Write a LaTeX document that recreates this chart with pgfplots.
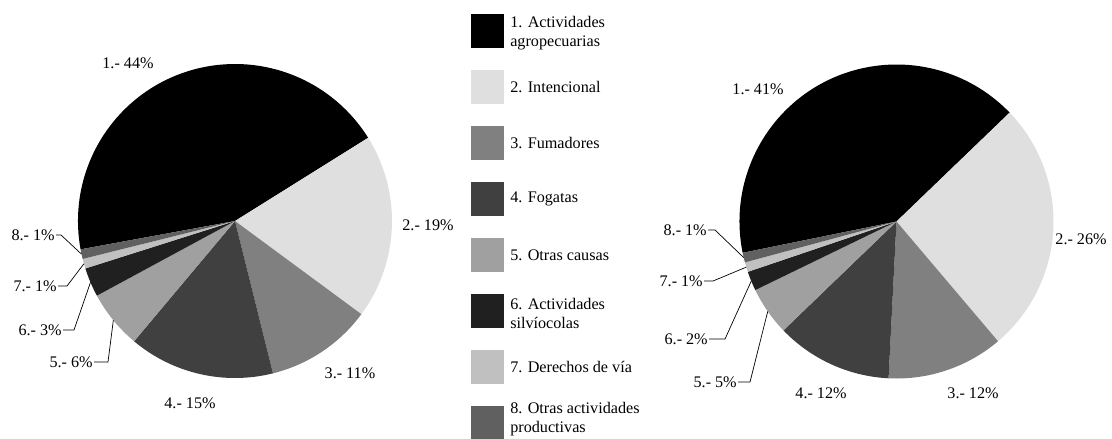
\documentclass[border=0pt]{standalone}
\usepackage{pgfplots}
\usepackage{pgfplotstable}
\pgfplotsset{compat=1.18}
\usepackage{fontspec}
\setmainfont{Liberation Serif}

\definecolor{c1}{HTML}{000000}
\definecolor{c2}{HTML}{DFDFDF}
\definecolor{c3}{HTML}{808080}
\definecolor{c4}{HTML}{404040}
\definecolor{c5}{HTML}{A0A0A0}
\definecolor{c6}{HTML}{202020}
\definecolor{c7}{HTML}{C0C0C0}
\definecolor{c8}{HTML}{606060}

% percentages per cause
\pgfplotstableread{
pct col
44 c1
19 c2
11 c3
15 c4
6  c5
3  c6
1  c7
1  c8
}\leftdata
\pgfplotstableread{
pct col
41 c1
26 c2
12 c3
12 c4
5  c5
2  c6
1  c7
1  c8
}\rightdata

\def\pierad{39.25mm}

% #1 table, #2 cx, #3 cy, #4 start angle, #5 name
\newcommand\drawpie[5]{%
  \pgfplotstablegetrowsof{#1}%
  \pgfmathtruncatemacro\nrows{\pgfplotsretval-1}%
  \pgfmathsetmacro\curang{#4}%
  \pgfplotsforeachungrouped \i in {0,...,\nrows}{%
    \pgfplotstablegetelem{\i}{pct}\of{#1}\let\pct\pgfplotsretval
    \pgfplotstablegetelem{\i}{col}\of{#1}\let\col\pgfplotsretval
    \pgfmathsetmacro\endang{\curang-3.6*\pct}%
    \pgfmathsetmacro\midang{\curang-1.8*\pct}%
    \expandafter\xdef\csname mid#5\i\endcsname{\midang}%
    \edef\temp{\noexpand\fill[\col] (axis cs:#2,#3) -- ++(\curang:\pierad)
      arc[start angle=\curang, end angle=\endang, radius=\pierad] -- cycle;}%
    \temp
    \global\let\curang\endang
  }}

% leader: #1 name, #2 slice, #3 cx, #4 cy, #5 x0, #6 x1, #7 y
\newcommand\leader[7]{%
  \edef\temp{\noexpand\draw[black, line width=0.5pt] (axis cs:#5,#7) -- (axis cs:#6,#7)
    -- ([shift={(\csname mid#1#2\endcsname:\pierad)}]axis cs:#3,#4);}%
  \temp}

\begin{document}
\fontsize{11.5}{13.5}\selectfont
\begin{tikzpicture}
\begin{axis}[
  name=ax,
  x=0.25mm, y=0.25mm,
  xmin=0, xmax=1112, ymin=0, ymax=438,
  hide axis, clip=false,
  scale only axis,
  every node/.append style={font=\fontsize{11.5}{13.5}\selectfont},
]
\drawpie{\leftdata}{235}{217}{190.4}{L}
\drawpie{\rightdata}{896.5}{216.5}{191.5}{R}

% labels left pie
\node at (axis cs:128,375) {1.- 44\%};
\node at (axis cs:428,213) {2.- 19\%};
\node at (axis cs:350,65) {3.- 11\%};
\node at (axis cs:190,35) {4.- 15\%};
\node[anchor=east, inner sep=0pt] at (axis cs:55,203) {8.- 1\%};
\node[anchor=east, inner sep=0pt] at (axis cs:57,152) {7.- 1\%};
\node[anchor=east, inner sep=0pt] at (axis cs:62,108) {6.- 3\%};
\node[anchor=east, inner sep=0pt] at (axis cs:93,76) {5.- 6\%};
\leader{L}{7}{235}{217}{56}{61}{203}
\leader{L}{6}{235}{217}{58}{67}{152}
\leader{L}{5}{235}{217}{63}{74}{108}
\leader{L}{4}{235}{217}{94}{108}{76}

% labels right pie
\node at (axis cs:758,349) {1.- 41\%};
\node at (axis cs:1081,199) {2.- 26\%};
\node at (axis cs:973,45) {3.- 12\%};
\node at (axis cs:821,45) {4.- 12\%};
\node[anchor=east, inner sep=0pt] at (axis cs:707,208) {8.- 1\%};
\node[anchor=east, inner sep=0pt] at (axis cs:703,157) {7.- 1\%};
\node[anchor=east, inner sep=0pt] at (axis cs:708,99) {6.- 2\%};
\node[anchor=east, inner sep=0pt] at (axis cs:737,56) {5.- 5\%};
\leader{R}{7}{896.5}{216.5}{708}{715}{208}
\leader{R}{6}{896.5}{216.5}{704}{713}{157}
\leader{R}{5}{896.5}{216.5}{709}{725}{99}
\leader{R}{4}{896.5}{216.5}{738}{750}{56}

% legend
\fill[c1] (axis cs:471,424) rectangle (axis cs:504,390);
\fill[c2] (axis cs:471,368) rectangle (axis cs:504,334);
\fill[c3] (axis cs:471,312) rectangle (axis cs:504,278);
\fill[c4] (axis cs:471,256) rectangle (axis cs:504,222);
\fill[c5] (axis cs:471,200) rectangle (axis cs:504,166);
\fill[c6] (axis cs:471,144) rectangle (axis cs:504,110);
\fill[c7] (axis cs:471,88) rectangle (axis cs:504,54);
\fill[c8] (axis cs:471,32) rectangle (axis cs:504,-2);
\node[anchor=west, inner sep=0pt, align=left] at (axis cs:510,405) {1. Actividades\\agropecuarias};
\node[anchor=west, inner sep=0pt] at (axis cs:510,351) {2. Intencional};
\node[anchor=west, inner sep=0pt] at (axis cs:510,295) {3. Fumadores};
\node[anchor=west, inner sep=0pt] at (axis cs:510,239) {4. Fogatas};
\node[anchor=west, inner sep=0pt] at (axis cs:510,183) {5. Otras causas};
\node[anchor=west, inner sep=0pt, align=left] at (axis cs:510,125) {6. Actividades\\silvíocolas};
\node[anchor=west, inner sep=0pt] at (axis cs:510,71) {7. Derechos de vía};
\node[anchor=west, inner sep=0pt, align=left] at (axis cs:510,19) {8. Otras actividades\\productivas};
\end{axis}
\pgfresetboundingbox
\path (ax.south west) rectangle (ax.north east);
\end{tikzpicture}
\end{document}
